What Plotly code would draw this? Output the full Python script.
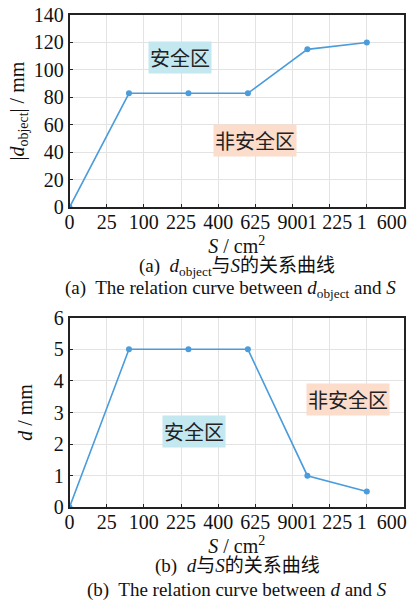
import plotly.graph_objects as go

# data
side = [0, 8, 16, 24, 32, 40]          # sqrt(S) positions, cm
d_object = [0, 83, 83, 83, 115, 120]  # |d_object| / mm
d_vals = [0, 5, 5, 5, 1, 0.5]         # d / mm
tick_pos = [0, 5, 10, 15, 20, 25, 30, 35, 40]
tick_text = ["0", "25", "100", "225", "400", "625", "900", "1 225",
             "\u2002\u2002\u20021\u2002600"]

SERIF = "Liberation Serif, Times New Roman, serif"
CJK = "Noto Sans CJK SC"
LINE = "#4b9cdb"
CYAN = "#c3e8ef"
SALMON = "#fcdccb"
TXT = "#111111"

fig = go.Figure()
fig.add_trace(go.Scatter(x=side, y=d_object, mode="lines+markers",
                         line=dict(color=LINE, width=1.6),
                         marker=dict(color=LINE, size=6),
                         xaxis="x", yaxis="y", showlegend=False))
fig.add_trace(go.Scatter(x=side, y=d_vals, mode="lines+markers",
                         line=dict(color=LINE, width=1.6),
                         marker=dict(color=LINE, size=6),
                         xaxis="x2", yaxis="y2", showlegend=False))

W, H = 420, 603
xdom = [69.5 / W, 404 / W]

axcommon = dict(showline=True, linecolor="#222222", linewidth=1.5, mirror=True,
                ticks="inside", ticklen=4, tickwidth=1.2, tickcolor="#222222",
                showgrid=True, gridcolor="#e3e3e3", gridwidth=1, zeroline=False,
                tickangle=0, automargin=False,
                tickfont=dict(family=SERIF, size=20, color=TXT))
titlefont = dict(family=SERIF, size=20, color=TXT)

fig.update_layout(
    width=W, height=H, margin=dict(l=0, r=0, t=0, b=0),
    paper_bgcolor="white", plot_bgcolor="white",
    font=dict(family=SERIF, size=19, color=TXT),
    xaxis=dict(domain=xdom, anchor="y", range=[0, 45], tickvals=tick_pos, ticktext=tick_text,
               ticklabelstandoff=-4,
               title=dict(text="<i>S</i> / cm<sup>2</sup>", standoff=0, font=titlefont), **axcommon),
    yaxis=dict(domain=[1 - 207.3 / H, 1 - 15 / H], anchor="x", range=[0, 140], dtick=20,
               title=dict(text="|<i>d</i><sub>object</sub>| / mm", standoff=4, font=titlefont), **axcommon),
    xaxis2=dict(domain=xdom, anchor="y2", range=[0, 45], tickvals=tick_pos, ticktext=tick_text,
                ticklabelstandoff=-4,
                title=dict(text="<i>S</i> / cm<sup>2</sup>", standoff=0, font=titlefont), **axcommon),
    yaxis2=dict(domain=[1 - 507.3 / H, 1 - 317.7 / H], anchor="x2", range=[0, 6], dtick=1,
                title=dict(text="<i>d</i> / mm", standoff=16, font=titlefont), **axcommon),
)

def zone(text, x, y, xref, yref, bg):
    fig.add_annotation(text=text, x=x, y=y, xref=xref, yref=yref, showarrow=False,
                       bgcolor=bg, borderpad=1,
                       font=dict(family=CJK, size=20, color="#222222"))

zone("安全区", 14.9, 109.4, "x", "y", CYAN)
zone("非安全区", 25.0, 48.3, "x", "y", SALMON)
zone("安全区", 16.7, 2.41, "x2", "y2", CYAN)
zone("非安全区", 37.5, 3.40, "x2", "y2", SALMON)

def caption(text, xc, yc):
    fig.add_annotation(text=text, x=xc / W, y=1 - yc / H, xref="paper", yref="paper",
                       showarrow=False, xanchor="center", yanchor="middle",
                       font=dict(family="Liberation Serif, " + CJK, size=19, color=TXT))

caption("(a)  <i>d</i><sub>object</sub>与<i>S</i>的关系曲线", 237, 267)
caption("(a)  The relation curve between <i>d</i><sub>object</sub> and <i>S</i>", 230, 289)
caption("(b)  <i>d</i>与<i>S</i>的关系曲线", 237, 566)
caption("(b)  The relation curve between <i>d</i> and <i>S</i>", 237, 590)

fig.write_html("out.html", config={"responsive": False, "displayModeBar": False},
               post_script="document.body.style.margin='0';document.body.style.overflow='hidden';")
